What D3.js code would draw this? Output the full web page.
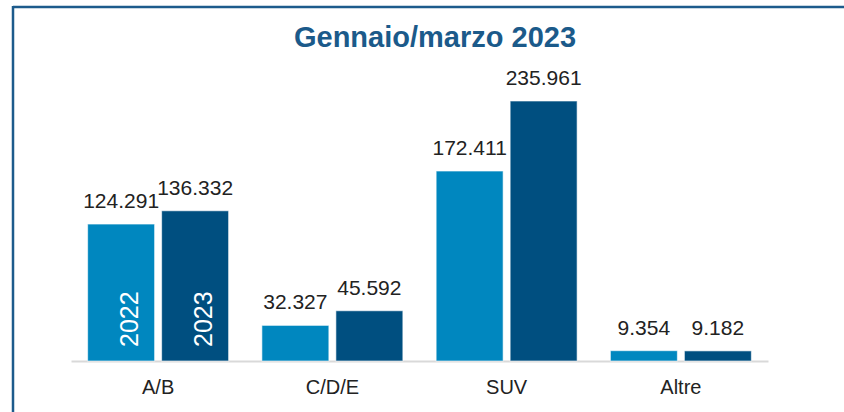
<!DOCTYPE html>
<html><head><meta charset="utf-8">
<script src="https://cdn.jsdelivr.net/npm/d3@7"></script>
<style>
html,body{margin:0;padding:0;background:#fff;}
svg{display:block;}
</style></head>
<body>
<svg id="chart" width="844" height="412"></svg>
<script>
const title = "Gennaio/marzo 2023";
const categories = ["A/B", "C/D/E", "SUV", "Altre"];
const years = ["2022", "2023"];
const values2022 = [124291, 32327, 172411, 9354];
const values2023 = [136332, 45592, 235961, 9182];
const colors = ["#0087bf", "#004f80"];

const fmt = v => d3.format(",")(v).replace(/,/g, ".");

const svg = d3.select("#chart");
const W = 844, H = 412;
const baseY = 361, topY = 101, left = 71, right = 768;

// frame
svg.append("line").attr("x1", 13).attr("x2", W).attr("y1", 7).attr("y2", 7)
  .attr("stroke", "#1d5b8c").attr("stroke-width", 2.5);
svg.append("line").attr("x1", 13).attr("x2", 13).attr("y1", 6).attr("y2", H)
  .attr("stroke", "#1d5b8c").attr("stroke-width", 2.5);

svg.append("text").attr("x", 435).attr("y", 47)
  .attr("text-anchor", "middle")
  .attr("font-family", "'Liberation Sans Narrow','Liberation Sans',Arial,sans-serif")
  .attr("font-weight", "bold").attr("font-size", 29)
  .attr("fill", "#1b5a8a")
  .text(title);

const data = categories.map((c, i) => ({cat: c, vals: [values2022[i], values2023[i]]}));

const x0 = d3.scaleBand().domain(categories).range([left, right])
  .paddingInner(0.191).paddingOuter(0.0955);
const x1 = d3.scaleBand().domain(years).range([0, x0.bandwidth()]).paddingInner(0.095);
const y = d3.scaleLinear().domain([0, d3.max(values2023.concat(values2022))]).range([baseY, topY]);

// axis
const xAxis = d3.axisBottom(x0).tickSize(0).tickPadding(0);
const ax = svg.append("g").attr("transform", `translate(0,${baseY})`).call(xAxis);
ax.select(".domain").attr("stroke", "#d9d9d9").attr("stroke-width", 2);
ax.selectAll("text").attr("font-family", "'Liberation Sans',Arial,sans-serif")
  .attr("font-size", 20).attr("fill", "#222").attr("dy", 0).attr("y", 33);

const g = svg.selectAll("g.cat").data(data).enter().append("g")
  .attr("class", "cat").attr("transform", d => `translate(${x0(d.cat)},0)`);

const bars = g.selectAll("g.bar").data(d => d.vals.map((v, j) => ({v, year: years[j], j})))
  .enter().append("g").attr("class", "bar");

bars.append("rect")
  .attr("x", d => x1(d.year)).attr("width", x1.bandwidth())
  .attr("y", d => y(d.v)).attr("height", d => baseY - y(d.v))
  .attr("fill", d => colors[d.j])
  .attr("stroke", "rgba(255,255,255,0.6)").attr("stroke-width", 1);

bars.append("text")
  .attr("x", d => x1(d.year) + x1.bandwidth() / 2)
  .attr("y", d => y(d.v) - 16)
  .attr("text-anchor", "middle")
  .attr("font-family", "'Liberation Sans',Arial,sans-serif")
  .attr("font-size", 21).attr("fill", "#222")
  .text(d => fmt(d.v));

// year labels inside first group
g.filter((d, i) => i === 0).selectAll("text.yr").data(years).enter().append("text")
  .attr("class", "yr")
  .attr("transform", d => `translate(${x1(d) + x1.bandwidth() / 2 + 17},${baseY - 14}) rotate(-90)`)
  .attr("font-family", "'Liberation Sans',Arial,sans-serif")
  .attr("font-size", 25).attr("fill", "#fff")
  .text(d => d);
</script>
</body></html>
